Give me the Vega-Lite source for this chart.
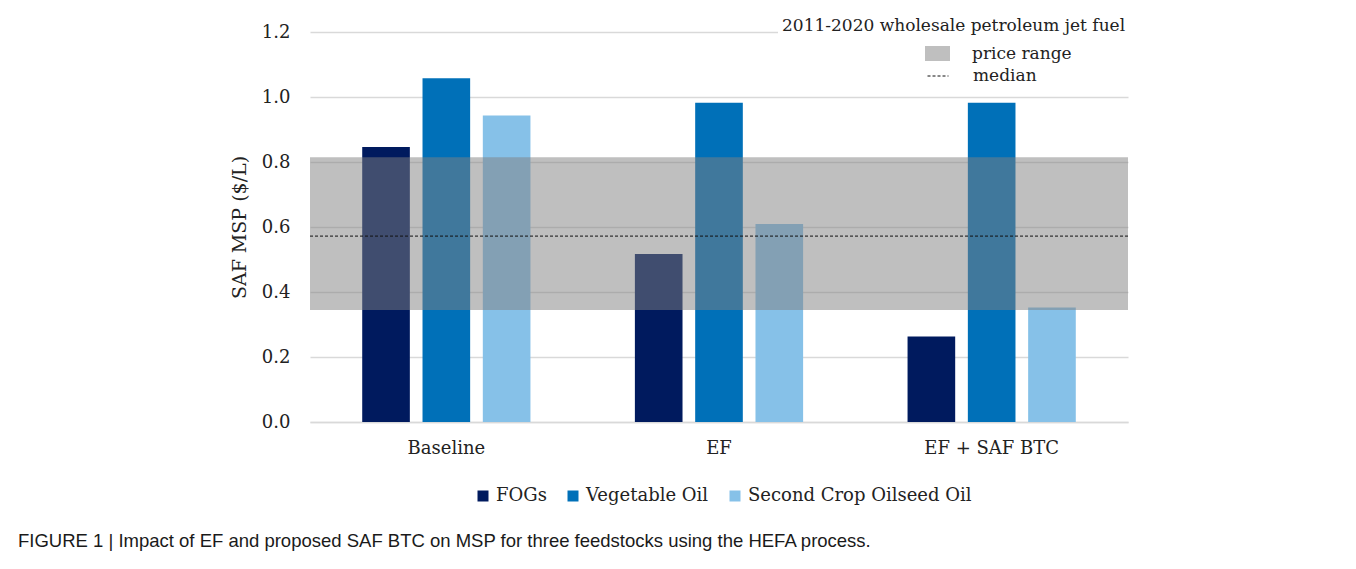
{
  "$schema": "https://vega.github.io/schema/vega-lite/v6.json",
  "width": 818,
  "height": 390,
  "autosize": {"type": "none"},
  "padding": {"left": 310, "top": 32, "right": 228, "bottom": 147},
  "background": "white",
  "title": {
    "text": "FIGURE 1 | Impact of EF and proposed SAF BTC on MSP for three feedstocks using the HEFA process.",
    "orient": "bottom",
    "anchor": "start",
    "frame": "group",
    "dx": -292,
    "offset": 27,
    "font": "Liberation Sans",
    "fontSize": 18.5,
    "fontWeight": "normal",
    "color": "#1a1a1a"
  },
  "config": {
    "view": {"stroke": null},
    "font": "DejaVu Serif",
    "axis": {"labelFont": "DejaVu Serif", "titleFont": "DejaVu Serif", "labelColor": "#222222", "titleColor": "#222222"},
    "legend": {"labelFont": "DejaVu Serif", "titleFont": "DejaVu Serif", "labelColor": "#222222", "titleColor": "#222222", "labelLimit": 500, "titleLimit": 600}
  },
  "layer": [
    {
      "data": {
        "values": [
          {"scenario": "Baseline", "feedstock": "FOGs", "msp": 0.846},
          {"scenario": "Baseline", "feedstock": "Vegetable Oil", "msp": 1.058},
          {"scenario": "Baseline", "feedstock": "Second Crop Oilseed Oil", "msp": 0.943},
          {"scenario": "EF", "feedstock": "FOGs", "msp": 0.517},
          {"scenario": "EF", "feedstock": "Vegetable Oil", "msp": 0.982},
          {"scenario": "EF", "feedstock": "Second Crop Oilseed Oil", "msp": 0.609},
          {"scenario": "EF + SAF BTC", "feedstock": "FOGs", "msp": 0.263},
          {"scenario": "EF + SAF BTC", "feedstock": "Vegetable Oil", "msp": 0.982},
          {"scenario": "EF + SAF BTC", "feedstock": "Second Crop Oilseed Oil", "msp": 0.352}
        ]
      },
      "mark": {"type": "bar"},
      "encoding": {
        "x": {
          "field": "scenario",
          "type": "nominal",
          "sort": ["Baseline", "EF", "EF + SAF BTC"],
          "scale": {"paddingInner": 0, "paddingOuter": 0},
          "axis": {
            "title": null,
            "labelAngle": 0,
            "ticks": false,
            "domainColor": "#d9d9d9",
            "domainWidth": 1.5,
            "labelPadding": 17,
            "labelFontSize": 18
          }
        },
        "xOffset": {
          "field": "feedstock",
          "type": "nominal",
          "sort": ["FOGs", "Vegetable Oil", "Second Crop Oilseed Oil"],
          "scale": {"paddingInner": 0.21, "paddingOuter": 0.866}
        },
        "y": {
          "field": "msp",
          "type": "quantitative",
          "title": "SAF MSP ($/L)",
          "scale": {"domain": [0, 1.2]},
          "axis": {
            "values": [0, 0.2, 0.4, 0.6, 0.8, 1.0, 1.2],
            "format": ".1f",
            "domain": false,
            "ticks": false,
            "labelPadding": 20,
            "labelFontSize": 18,
            "gridColor": "#d9d9d9",
            "gridWidth": 1.5,
            "titleFontSize": 19,
            "titleFontWeight": "normal",
            "titlePadding": 12
          }
        },
        "color": {
          "field": "feedstock",
          "type": "nominal",
          "scale": {
            "domain": ["FOGs", "Vegetable Oil", "Second Crop Oilseed Oil"],
            "range": ["#001a5e", "#0070b8", "#86c1e8"]
          },
          "legend": {
            "title": null,
            "orient": "none",
            "direction": "horizontal",
            "legendX": 164,
            "legendY": 455,
            "padding": 0,
            "symbolType": "square",
            "symbolSize": 121,
            "symbolStrokeWidth": 0,
            "labelFontSize": 18,
            "labelOffset": 4,
            "columnPadding": 17
          }
        }
      }
    },
    {
      "data": {"values": [{"band": "price range", "lo": 0.345, "hi": 0.815}]},
      "mark": {"type": "rect", "opacity": 0.5},
      "encoding": {
        "y": {"field": "lo", "type": "quantitative", "title": "SAF MSP ($/L)"},
        "y2": {"field": "hi"},
        "fill": {
          "field": "band",
          "type": "nominal",
          "scale": {"domain": ["price range"], "range": ["#808080"]},
          "legend": {
            "title": "2011-2020 wholesale petroleum jet fuel",
            "orient": "none",
            "legendX": 468,
            "legendY": -18,
            "padding": 4,
            "fillColor": "white",
            "titleFontSize": 17,
            "titleFontWeight": "normal",
            "titlePadding": 6,
            "symbolType": "M-1,-0.6H1V0.6H-1Z",
            "symbolSize": 625,
            "symbolOffset": 143,
            "symbolOpacity": 0.5,
            "symbolStrokeWidth": 0,
            "labelOffset": 22,
            "labelFontSize": 17
          }
        }
      }
    },
    {
      "data": {"values": [{"line": "median", "v": 0.572}]},
      "mark": {"type": "rule", "color": "#111111", "strokeWidth": 1},
      "encoding": {
        "y": {"field": "v", "type": "quantitative", "title": "SAF MSP ($/L)"},
        "strokeDash": {
          "field": "line",
          "type": "nominal",
          "scale": {"domain": ["median"], "range": [[3, 2]]},
          "legend": {
            "title": null,
            "orient": "none",
            "legendX": 617,
            "legendY": 33,
            "padding": 0,
            "symbolType": "stroke",
            "symbolSize": 441,
            "symbolStrokeColor": "#111111",
            "symbolStrokeWidth": 1,
            "labelOffset": 24,
            "labelFontSize": 17
          }
        }
      }
    }
  ]
}
